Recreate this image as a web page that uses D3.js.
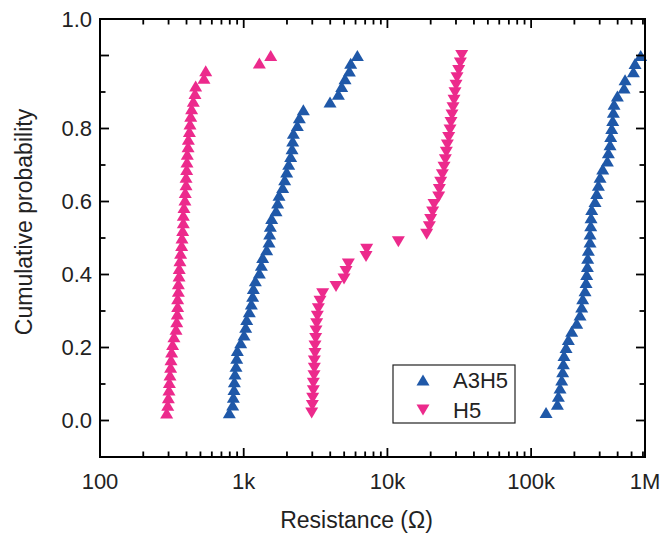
<!DOCTYPE html>
<html>
<head>
<meta charset="utf-8">
<script src="https://cdn.jsdelivr.net/npm/d3@7"></script>
<style>
  body { margin: 0; background: #fff; }
  svg { display: block; }
  text { font-family: "Liberation Sans", Arial, sans-serif; fill: #222; }
</style>
</head>
<body>
<svg id="chart" width="662" height="535"></svg>
<script>
// Resistance samples (ohm) for each state of each device
const a3h5Low = [794, 838, 847, 856, 861, 870, 884, 894, 903, 953, 1005, 1032, 1049, 1094, 1130, 1154,
  1167, 1205, 1285, 1327, 1355, 1445, 1500, 1516, 1532, 1565, 1678, 1723, 1761, 1867, 1928, 1991,
  2056, 2122, 2169, 2192, 2216, 2361, 2439, 2600, 3987, 4557, 4807, 5070, 5435, 5553, 6178];
const a3h5High = [127000, 152300, 154700, 158900, 163200, 165800, 167600, 169400, 175000, 181600,
  191600, 207600, 218900, 224800, 228500, 237200, 241100, 243600, 246300, 247600, 250200, 257000,
  257000, 259800, 261200, 264000, 278400, 286000, 293800, 301700, 314900, 339300, 344800, 354100,
  357900, 363700, 369600, 373500, 377500, 398200, 443200, 450400, 514700, 528600, 578800];
const h5Low = [291, 296, 299, 302, 304, 307, 310, 312, 315, 320, 327, 338, 342, 345, 347, 347, 351,
  351, 355, 356, 360, 364, 370, 372, 376, 380, 380, 384, 390, 392, 397, 397, 401, 403, 405, 410, 412,
  419, 423, 428, 434, 446, 458, 463, 529, 544, 1285, 1541];
const h5High = [2972, 3004, 3020, 3052, 3052, 3085, 3101, 3101, 3135, 3135, 3168, 3185, 3219, 3254,
  3307, 3396, 3544, 4388, 4989, 5152, 5348, 7098, 7173, 11920, 18760, 19580, 20000, 20650, 21100,
  22740, 22980, 23480, 24120, 24770, 25300, 25710, 26130, 26690, 27270, 27700, 28150, 28610, 29080,
  29540, 30020, 30500, 31330, 32180, 32880];

const xTickValues = [1e2, 1e3, 1e4, 1e5];
const xTickLabels = ["100", "1k", "10k", "100k", "1M"];
const yTickValues = [0, 0.2, 0.4, 0.6, 0.8];
const yTickLabels = ["0.0", "0.2", "0.4", "0.6", "0.8", "1.0"];
const legendNames = ["A3H5", "H5"];

const BLUE = "#1F58A8";
const PINK = "#EC2A8C";

const margin = { left: 100, right: 17, top: 19, bottom: 78 };
const W = 662, H = 535;
const svg = d3.select("#chart");

const xMax = 6.2e5;
const x = d3.scaleLog().domain([100, xMax]).range([margin.left, W - margin.right]);
const y = d3.scaleLinear().domain([-0.1, 1.1]).range([H - margin.bottom, margin.top]);

const x0 = x.range()[0], x1 = x.range()[1];
const y0 = y.range()[0], y1 = y.range()[1];

// Empirical cumulative probability of a sample
function cumulative(values) {
  const s = values.slice().sort(d3.ascending);
  return s.map((v, i) => ({ r: v, p: (i + 1) / s.length }));
}

// Triangle markers, centred on their bounding box
function triPath(up, w, h) {
  const hw = w / 2, hh = h / 2;
  return up
    ? `M0,${-hh}L${hw},${hh}L${-hw},${hh}Z`
    : `M0,${hh}L${hw},${-hh}L${-hw},${-hh}Z`;
}

const series = [
  { data: a3h5Low, color: BLUE, up: true },
  { data: a3h5High, color: BLUE, up: true },
  { data: h5Low, color: PINK, up: true },
  { data: h5High, color: PINK, up: false }
];

const marks = svg.append("g");
series.forEach(s => {
  marks.append("g").selectAll("path")
    .data(cumulative(s.data))
    .join("path")
    .attr("d", triPath(s.up, 13, 11))
    .attr("transform", d => `translate(${x(d.r)},${y(d.p)})`)
    .attr("fill", s.color);
});

// Ticks (all inward) on the four sides
const ticks = svg.append("g").attr("stroke", "#000").attr("stroke-width", 1.8);
const xMinor = [];
xTickValues.forEach(d => { for (let k = 2; k <= 9; k++) if (d * k < xMax) xMinor.push(d * k); });
const majLen = 9, minLen = 5.5;
xTickValues.forEach(v => {
  ticks.append("line").attr("x1", x(v)).attr("x2", x(v)).attr("y1", y0).attr("y2", y0 - majLen);
  ticks.append("line").attr("x1", x(v)).attr("x2", x(v)).attr("y1", y1).attr("y2", y1 + majLen);
});
xMinor.forEach(v => {
  ticks.append("line").attr("x1", x(v)).attr("x2", x(v)).attr("y1", y0).attr("y2", y0 - minLen);
  ticks.append("line").attr("x1", x(v)).attr("x2", x(v)).attr("y1", y1).attr("y2", y1 + minLen);
});
d3.range(0, 11).forEach(k => {
  const v = k / 10, len = k % 2 === 0 ? majLen : minLen;
  ticks.append("line").attr("x1", x0).attr("x2", x0 + len).attr("y1", y(v)).attr("y2", y(v));
  ticks.append("line").attr("x1", x1).attr("x2", x1 - len).attr("y1", y(v)).attr("y2", y(v));
});

// Frame
svg.append("rect")
  .attr("x", x0).attr("y", y1).attr("width", x1 - x0).attr("height", y0 - y1)
  .attr("fill", "none").attr("stroke", "#000").attr("stroke-width", 2);

// Tick labels
const xLabelPos = xTickValues.concat([xMax]);
svg.append("g").selectAll("text")
  .data(xTickLabels)
  .join("text")
  .attr("x", (d, i) => x(xLabelPos[i]))
  .attr("y", y0 + 32)
  .attr("text-anchor", "middle")
  .attr("font-size", 22)
  .text(d => d);

const yLabelPos = yTickValues.concat([1.1]);
svg.append("g").selectAll("text")
  .data(yTickLabels)
  .join("text")
  .attr("x", x0 - 8)
  .attr("y", (d, i) => y(yLabelPos[i]))
  .attr("dy", "0.35em")
  .attr("text-anchor", "end")
  .attr("font-size", 22)
  .text(d => d);

// Axis titles
svg.append("text")
  .attr("x", (x0 + x1) / 2 - 16).attr("y", 528)
  .attr("text-anchor", "middle").attr("font-size", 23)
  .text("Resistance (\u03A9)");
svg.append("text")
  .attr("transform", `translate(32,222) rotate(-90)`)
  .attr("text-anchor", "middle").attr("font-size", 23)
  .text("Cumulative probability");

// Legend
const lg = svg.append("g").attr("transform", "translate(393,365)");
lg.append("rect").attr("width", 122).attr("height", 58)
  .attr("fill", "#fff").attr("stroke", "#222").attr("stroke-width", 1.2);
[{ c: BLUE, up: true }, { c: PINK, up: false }].forEach((e, i) => {
  const cy = 15 + i * 30;
  lg.append("path").attr("d", triPath(e.up, 13, 11))
    .attr("transform", `translate(30,${cy})`).attr("fill", e.c);
  lg.append("text").attr("x", 60).attr("y", cy).attr("dy", "0.35em")
    .attr("font-size", 22).text(legendNames[i]);
});
</script>
</body>
</html>
